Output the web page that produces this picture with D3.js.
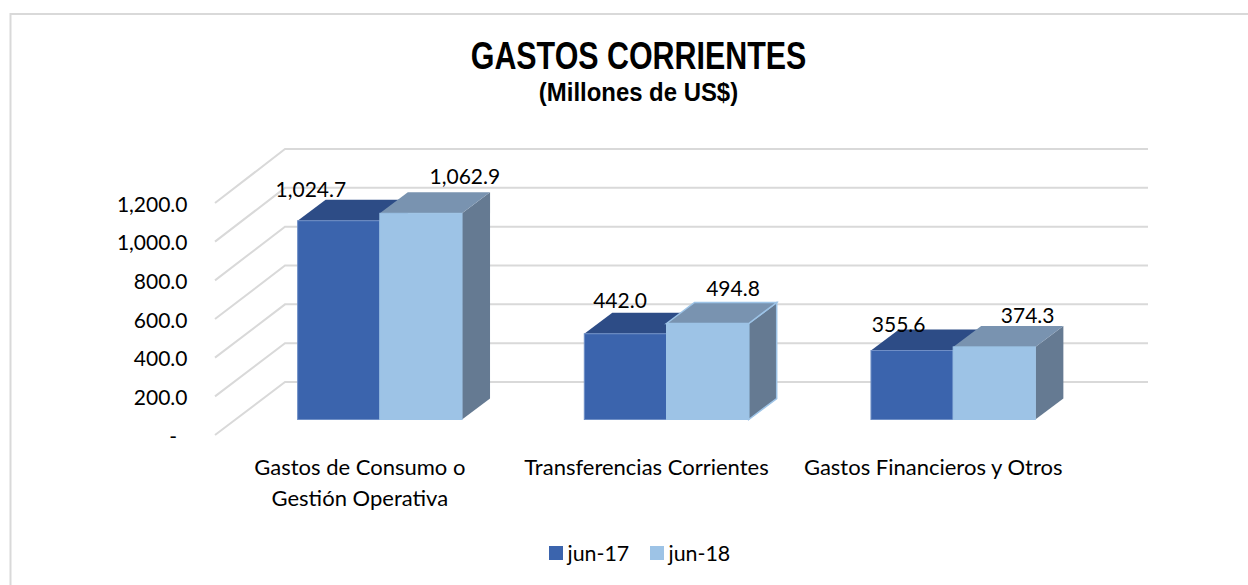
<!DOCTYPE html>
<html><head><meta charset="utf-8">
<script src="https://cdnjs.cloudflare.com/ajax/libs/d3/7.8.5/d3.min.js"></script>
<style>html,body{margin:0;padding:0;background:#fff}svg{display:block}text{font-family:Lato,Carlito,sans-serif;fill:#000}</style>
</head><body><div id="c"></div>
<script>
const categories=[["Gastos de Consumo o","Gestión Operativa"],["Transferencias Corrientes"],["Gastos Financieros y Otros"]];
const seriesNames=["jun-17","jun-18"];
const jun17=[1024.7,442.0,355.6];
const jun18=[1062.9,494.8,374.3];
const tickValues=[0,200,400,600,800,1000,1200];
const W=1248,H=585;
const svg=d3.select("#c").append("svg").attr("width",W).attr("height",H);
svg.append("path").attr("d","M10.5,585V14H1248").attr("fill","none").attr("stroke","#d9d9d9").attr("stroke-width",2);
const dx=28,dy=21;
const yFront=d3.scaleLinear().domain([0,1200]).range([419.5,186.7]);
const yLeft=d3.scaleLinear().domain([0,1200]).range([435,203]);
const yBack=d3.scaleLinear().domain([0,1200]).range([382,149]);
const x0=d3.scaleBand().domain([0,1,2]).range([236.5,1096.5]).padding(0);
const barW=82.2;
const fmt=v=>v===0?"-":d3.format(",.1f")(v);
const g=svg.append("g").attr("fill","none").attr("stroke","#d9d9d9").attr("stroke-width",2);
tickValues.forEach(t=>{
  g.append("path").attr("d",`M215,${yLeft(t)}L285,${yBack(t)}H1148`);
});
svg.append("g").selectAll("text").data(tickValues).join("text")
 .attr("x",d=>d===0?177:187.5).attr("y",d=>yLeft(d)+8.5).attr("text-anchor","end").attr("font-size",21).text(fmt);
const cols=[{f:"#3b64ad",t:"#2d4c86",s:"#2d4c86"},{f:"#9dc3e6",t:"#7993b0",s:"#657a92"}];
const groups=[jun17,jun18];
const cx=i=>x0(i)+x0.bandwidth()/2;
[0,1,2].forEach(i=>{
  [0,1].forEach(k=>{
    const v=groups[k][i],c=cols[k];
    const x=cx(i)-barW+k*barW,y0=yFront(0),y1=yFront(v),w=barW;
    const stroke=(i===1&&k===1)?"#9dc3e6":"none";
    svg.append("path").attr("fill",c.s).attr("stroke",stroke).attr("stroke-width",1.5)
      .attr("d",`M${x+w},${y1}l${dx},${-dy}V${y0-dy}l${-dx},${dy}Z`);
    svg.append("path").attr("fill",c.t).attr("stroke",stroke).attr("stroke-width",1.5)
      .attr("d",`M${x},${y1}l${dx},${-dy}h${w}l${-dx},${dy}Z`);
    svg.append("rect").attr("x",x).attr("y",y1).attr("width",w).attr("height",y0-y1)
      .attr("fill",c.f).attr("stroke",k?"#9dc3e6":"#6f8fc6").attr("stroke-width",1);
  });
});
const labelOffsets=[[[-69,-24],[85,-29]],[[-46.5,-26],[66.5,-27.5]],[[-54.5,-18.5],[74.5,-24]]];
[0,1,2].forEach(i=>{
  [0,1].forEach(k=>{
    const v=groups[k][i];
    const off=labelOffsets[i][k];
    svg.append("text").attr("x",cx(i)+off[0]).attr("y",yFront(v)+off[1]).attr("text-anchor","middle").attr("font-size",21).text(d3.format(",.1f")(v));
  });
});
categories.forEach((lines,i)=>{
  lines.forEach((l,j)=>{
    svg.append("text").attr("x",cx(i)-20).attr("y",475+j*31).attr("text-anchor","middle").attr("font-size",22).text(l);
  });
});
const ff="'Liberation Sans',Arial,sans-serif";
svg.append("text").attr("text-anchor","middle").attr("font-size",38).attr("font-weight",700).style("font-family",ff)
  .attr("transform","translate(638.5,69) scale(0.8,1)").text("GASTOS CORRIENTES");
svg.append("text").attr("text-anchor","middle").attr("font-size",26).attr("font-weight",700).style("font-family",ff)
  .attr("transform","translate(638.5,100.5) scale(0.92,1)").text("(Millones de US$)");
const lx=[549,650];
seriesNames.forEach((n,k)=>{
  svg.append("rect").attr("x",lx[k]).attr("y",546).attr("width",14).attr("height",14).attr("fill",cols[k].f);
  svg.append("text").attr("x",lx[k]+18.5).attr("y",560.5).attr("font-size",21.4).text(n);
});
</script></body></html>
